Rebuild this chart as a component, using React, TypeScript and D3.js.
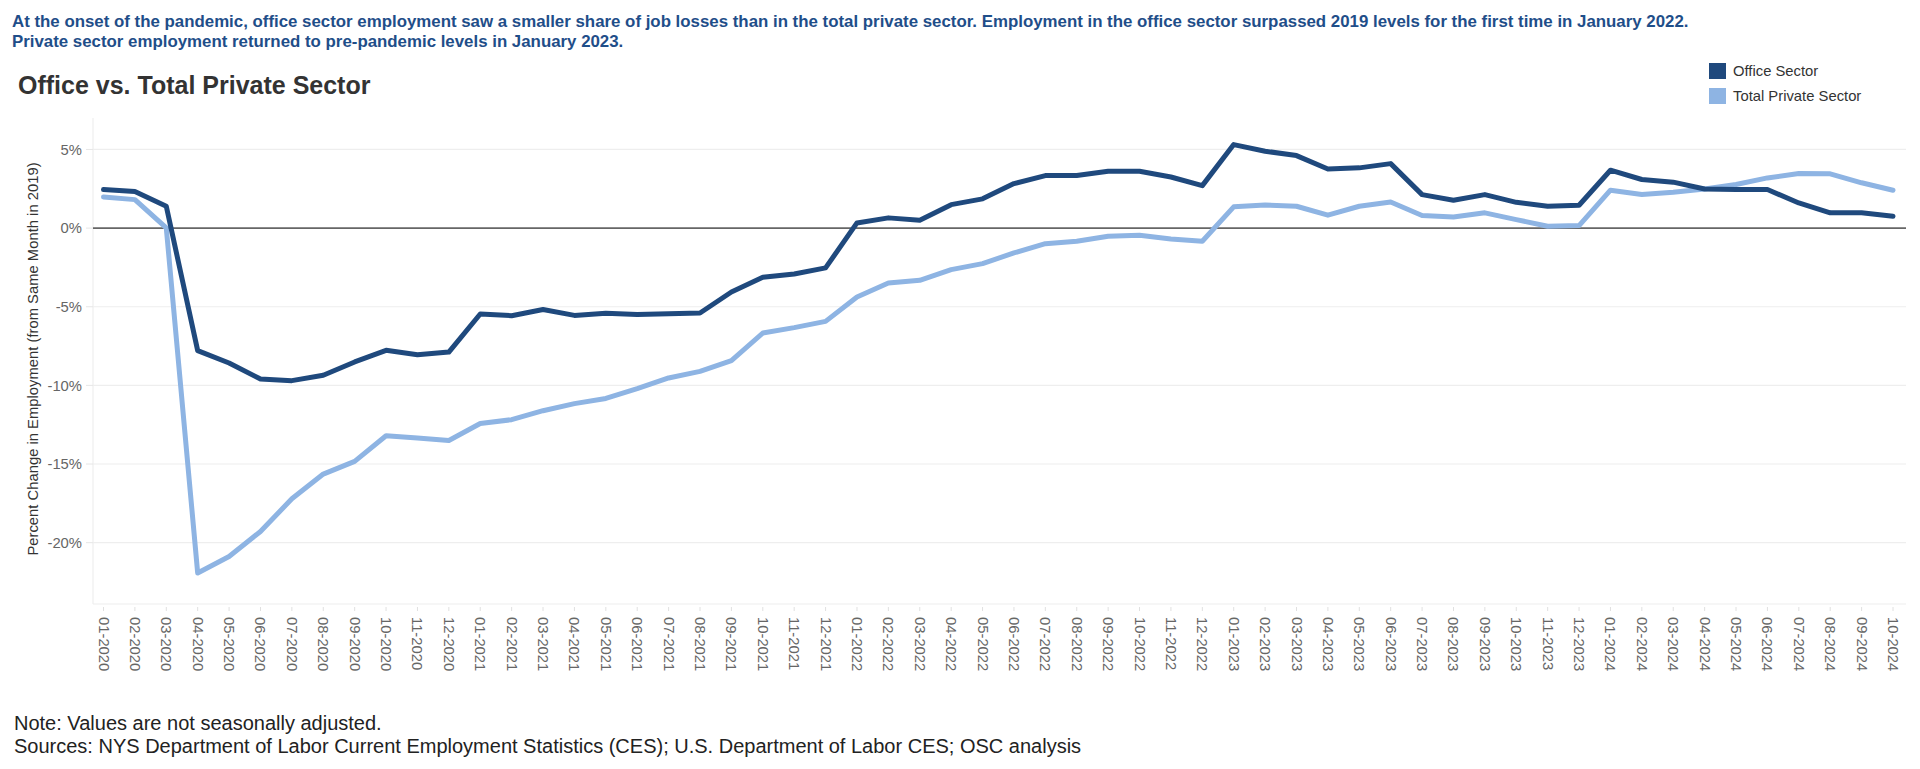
import React from "react";
import * as d3 from "d3";

const months: string[] = [];
for (const yr of [2020, 2021, 2022, 2023, 2024]) {
  for (let m = 1; m <= 12; m++) {
    if (yr === 2024 && m > 10) break;
    months.push(`${String(m).padStart(2, "0")}-${yr}`);
  }
}

const officeSector = [
  2.45, 2.32, 1.39, -7.79, -8.58, -9.6, -9.7, -9.36, -8.51, -7.77, -8.05, -7.88,
  -5.46, -5.57, -5.18, -5.55, -5.42, -5.5, -5.44, -5.4, -4.06, -3.13, -2.92, -2.53,
  0.33, 0.65, 0.5, 1.49, 1.86, 2.83, 3.34, 3.34, 3.61, 3.61, 3.25, 2.7,
  5.31, 4.89, 4.61, 3.76, 3.83, 4.1, 2.13, 1.77, 2.13, 1.64, 1.39, 1.45,
  3.68, 3.09, 2.92, 2.49, 2.45, 2.45, 1.6, 0.97, 0.97, 0.75,
];

const totalPrivate = [
  1.98, 1.81, 0.01, -21.93, -20.88, -19.29, -17.21, -15.64, -14.83, -13.2, -13.35, -13.5,
  -12.42, -12.18, -11.61, -11.16, -10.83, -10.21, -9.53, -9.11, -8.43, -6.67, -6.33, -5.93,
  -4.38, -3.49, -3.32, -2.64, -2.26, -1.58, -0.99, -0.84, -0.52, -0.46, -0.69, -0.84,
  1.35, 1.47, 1.39, 0.82, 1.39, 1.66, 0.8, 0.71, 0.97, 0.54, 0.12, 0.16,
  2.41, 2.13, 2.28, 2.49, 2.77, 3.19, 3.47, 3.45, 2.88, 2.41,
];

const yTicks = [5, 0, -5, -10, -15, -20];
const seriesNames = ["Office Sector", "Total Private Sector"];
const seriesColors = ["#1f497d", "#8eb4e3"];

const subtitleLines = [
  "At the onset of the pandemic, office sector employment saw a smaller share of job losses than in the total private sector. Employment in the office sector surpassed 2019 levels for the first time in January 2022.",
  "Private sector employment returned to pre-pandemic levels in January 2023.",
];
const chartTitle = "Office vs. Total Private Sector";
const yAxisTitle = "Percent Change in Employment (from Same Month in 2019)";
const noteLines = [
  "Note: Values are not seasonally adjusted.",
  "Sources: NYS Department of Labor Current Employment Statistics (CES); U.S. Department of Labor CES; OSC analysis",
];

const FONT = "'Liberation Sans', Arial, sans-serif";

export default function App() {
  const plotLeft = 93;
  const plotRight = 1906;
  const plotTop = 118;
  const plotBottom = 604;

  const x = d3.scalePoint<string>().domain(months).range([103.5, 1893]);
  const y = d3.scaleLinear().domain([-23.9, 7.0]).range([plotBottom, plotTop]);

  const line = d3
    .line<number>()
    .x((_, i) => x(months[i]) as number)
    .y((d) => y(d));

  const fmt = (v: number) => `${v}%`;

  return (
    <svg
      width={1920}
      height={769}
      style={{ position: "absolute", left: 0, top: 0, background: "#fff" }}
      fontFamily={FONT}
    >
      {/* subtitle */}
      {subtitleLines.map((t, i) => (
        <text key={i} x={12} y={27 + i * 20} fontSize={16.85} fontWeight="bold" fill="#1f4e89">
          {t}
        </text>
      ))}
      <text x={18} y={94} fontSize={25} fontWeight="bold" fill="#333333">
        {chartTitle}
      </text>

      {/* legend */}
      {seriesNames.map((n, i) => (
        <g key={n}>
          <rect x={1709} y={63 + i * 25} width={17} height={16} fill={seriesColors[i]} />
          <text x={1733} y={76 + i * 25} fontSize={14.8} fill="#333333">
            {n}
          </text>
        </g>
      ))}

      {/* gridlines */}
      {yTicks
        .filter((t) => t !== 0)
        .map((t) => (
          <line key={t} x1={plotLeft} x2={plotRight} y1={y(t)} y2={y(t)} stroke="#eeeeee" strokeWidth={1.2} />
        ))}
      {/* plot border */}
      <line x1={plotLeft} x2={plotLeft} y1={plotTop} y2={plotBottom} stroke="#eeeeee" strokeWidth={1.2} />
      <line x1={plotLeft} x2={plotRight} y1={plotBottom} y2={plotBottom} stroke="#eeeeee" strokeWidth={1.2} />

      {/* y ticks */}
      {yTicks.map((t) => (
        <g key={t}>
          <line x1={86} x2={plotLeft} y1={y(t)} y2={y(t)} stroke="#e6e6e6" />
          <text x={82} y={y(t)} dy="0.35em" fontSize={14.8} fill="#666666" textAnchor="end">
            {fmt(t)}
          </text>
        </g>
      ))}

      {/* zero line */}
      <line x1={plotLeft} x2={plotRight} y1={y(0)} y2={y(0)} stroke="#666666" strokeWidth={1.6} />

      {/* x ticks */}
      {months.map((m) => (
        <g key={m}>
          <line x1={x(m)} x2={x(m)} y1={607} y2={611} stroke="#e0e0e0" />
          <text
            transform={`translate(${x(m)},617) rotate(90)`}
            fontSize={14.8}
            fill="#666666"
            dominantBaseline="central"
          >
            {m}
          </text>
        </g>
      ))}

      {/* y axis title */}
      <text
        transform={`translate(37.5,359) rotate(-90)`}
        fontSize={14.8}
        fill="#333333"
        textAnchor="middle"
      >
        {yAxisTitle}
      </text>

      {/* lines */}
      <path d={line(totalPrivate) || ""} fill="none" stroke={seriesColors[1]} strokeWidth={5} strokeLinejoin="round" strokeLinecap="round" />
      <path d={line(officeSector) || ""} fill="none" stroke={seriesColors[0]} strokeWidth={5} strokeLinejoin="round" strokeLinecap="round" />

      {/* notes */}
      {noteLines.map((t, i) => (
        <text key={i} x={14} y={730 + i * 23} fontSize={20} fill="#222222">
          {t}
        </text>
      ))}
    </svg>
  );
}
